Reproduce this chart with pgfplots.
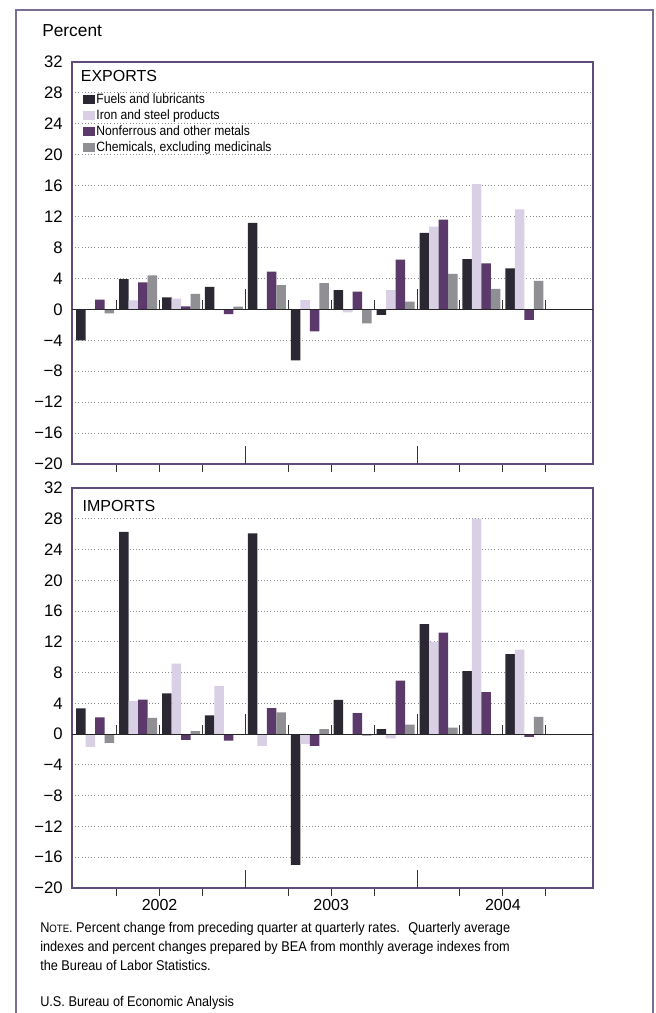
\documentclass[border=0pt]{standalone}
\usepackage{pgfplots}
\pgfplotsset{compat=1.18}
\usepackage{pgfplotstable}
\usepackage{fontspec}
\setmainfont{Liberation Sans}
\newfontfamily\narrow[FakeStretch=0.9]{Liberation Sans}
\definecolor{fuel}{HTML}{2B2733}
\definecolor{iron}{HTML}{D9D0E6}
\definecolor{nonf}{HTML}{5B3A6B}
\definecolor{chem}{HTML}{8F8F94}
\definecolor{framec}{HTML}{5F4B7D}
\definecolor{outerc}{HTML}{7B6E96}

\pgfplotstableread{
k fuel iron nonf chem
0 -4.0 0.0 1.25 -0.5
1 3.9 1.15 3.5 4.4
2 1.55 1.4 0.4 2.0
3 2.9 -0.1 -0.6 0.35
4 11.2 -0.1 4.9 3.15
5 -6.6 1.2 -2.85 3.4
6 2.5 -0.4 2.3 -1.8
7 -0.7 2.5 6.45 1.0
8 9.9 10.7 11.6 4.6
9 6.5 16.2 5.95 2.65
10 5.3 12.95 -1.35 3.7
}\exportsdata

\pgfplotstableread{
k fuel iron nonf chem
0 3.35 -1.65 2.17 -1.13
1 26.3 4.3 4.48 2.13
2 5.3 9.17 -0.74 0.4
3 2.43 6.26 -0.83 0.0
4 26.1 -1.52 3.4 2.83
5 -17.0 -1.26 -1.52 0.65
6 4.45 -0.05 2.75 -0.2
7 0.65 -0.55 6.95 1.25
8 14.3 12.0 13.2 0.85
9 8.2 28.0 5.45 -0.1
10 10.4 11.0 -0.35 2.25
}\importsdata

\def\u{0.75pt}
\tikzset{zeroline/.style={black!85, line width=0.8pt}}

\pgfplotsset{
  panel/.style={
    scale only axis,
    clip=false,
    width=390.75pt,
    xmin=-0.54, xmax=11.6,
    ymin=-20, ymax=32,
    ytick={-20,-16,...,32},
    yticklabels={−20,−16,−12,−8,−4,0,4,8,12,16,20,24,28,32},
    yticklabel style={font=\fontsize{12.5}{14}\selectfont, inner sep=0pt, xshift=-6.75pt},
    ytick style={draw=none},
    ymajorgrids,
    grid style={dotted, black!45, line width=0.7pt},
    xtick={0.5,1.5,2.5,4.5,5.5,6.5,8.5,9.5,10.5},
    xticklabels={},
    extra x ticks={3.5,7.5},
    extra x tick labels={},
    extra x tick style={major tick length=13.5pt, tick align=inside, xticklabels={}},
    major tick length=6pt,
    tick align=inside,
    xtick pos=left,
    x tick style={line width=0.8pt, black!80},
    axis line style={framec, line width=2pt},
    ybar=0pt, bar width=0.2214,
    legend image code/.code={\fill[##1] (0pt,-3.4pt) rectangle (8.7pt,3.4pt);},
  },
}

\begin{document}
\begin{tikzpicture}
\useasboundingbox (0,0) rectangle (656*\u,-1013*\u);
\fill[white] (0,0) rectangle (656*\u,-1013*\u);
% outer frame
\draw[outerc, line width=1.5pt] (16*\u,-1020*\u) -- (16*\u,-10*\u) -- (653*\u,-10*\u) -- (653*\u,-1020*\u);
\node[anchor=west, inner sep=0pt, font=\fontsize{13}{15}\selectfont] at (42*\u,-31*\u) {Percent};

\begin{axis}[panel, height=301.5pt, at={(72*\u,-62*\u)}, anchor=north west,
  legend style={at={(0.0205,0.922)}, anchor=north west, draw=none, fill=none,
    font=\narrow\fontsize{10.1}{11}\selectfont, inner sep=0pt, row sep=2.7pt,
    nodes={inner ysep=0pt, inner xsep=1.4pt, text height=7.3pt, text depth=2pt},
    cells={anchor=west}},
  legend cell align=left]
\addplot[fill=fuel, draw=none] table[x=k, y=fuel] {\exportsdata};
\addplot[fill=iron, draw=none] table[x=k, y=iron] {\exportsdata};
\addplot[fill=nonf, draw=none] table[x=k, y=nonf] {\exportsdata};
\addplot[fill=chem, draw=none] table[x=k, y=chem] {\exportsdata};
\legend{Fuels and lubricants, Iron and steel products, Nonferrous and other metals, {Chemicals, excluding medicinals}}
\draw[zeroline] (axis cs:-0.54,0) -- (axis cs:11.6,0);
\pgfplotsinvokeforeach{0.5,1.5,2.5,4.5,5.5,6.5,8.5,9.5,10.5}{\draw[black!80, line width=0.8pt] (axis cs:#1,0) -- ++(0pt,6.75pt);}
\pgfplotsinvokeforeach{3.5,7.5}{\draw[black!80, line width=0.8pt] (axis cs:#1,0) -- ++(0pt,15pt);}
\node[anchor=west, inner sep=0pt, font=\fontsize{12}{14}\selectfont] at (axis description cs:0.0165,0.965) {EXPORTS};
\end{axis}

\begin{axis}[panel, height=300pt, at={(72*\u,-488*\u)}, anchor=north west]
\addplot[fill=fuel, draw=none] table[x=k, y=fuel] {\importsdata};
\addplot[fill=iron, draw=none] table[x=k, y=iron] {\importsdata};
\addplot[fill=nonf, draw=none] table[x=k, y=nonf] {\importsdata};
\addplot[fill=chem, draw=none] table[x=k, y=chem] {\importsdata};
\draw[zeroline] (axis cs:-0.54,0) -- (axis cs:11.6,0);
\pgfplotsinvokeforeach{0.5,1.5,2.5,4.5,5.5,6.5,8.5,9.5,10.5}{\draw[black!80, line width=0.8pt] (axis cs:#1,0) -- ++(0pt,6.75pt);}
\pgfplotsinvokeforeach{3.5,7.5}{\draw[black!80, line width=0.8pt] (axis cs:#1,0) -- ++(0pt,15pt);}
\node[anchor=west, inner sep=0pt, font=\fontsize{12}{14}\selectfont] at (axis description cs:0.02,0.956) {IMPORTS};
\node[font=\fontsize{12}{14}\selectfont, inner sep=0pt] at ([yshift=-12.75pt]axis cs:1.5,-20) {2002};
\node[font=\fontsize{12}{14}\selectfont, inner sep=0pt] at ([yshift=-12.75pt]axis cs:5.5,-20) {2003};
\node[font=\fontsize{12}{14}\selectfont, inner sep=0pt] at ([yshift=-12.75pt]axis cs:9.5,-20) {2004};
\end{axis}

\begin{scope}[every node/.style={anchor=base west, inner sep=0pt, font=\narrow\fontsize{10.6}{12}\selectfont}]
\node at (40*\u,-932*\u) {N{\fontsize{8}{10}\selectfont OTE}. Percent change from preceding quarter at quarterly rates.~ Quarterly average};
\node at (40*\u,-951*\u) {indexes and percent changes prepared by BEA from monthly average indexes from};
\node at (40*\u,-970*\u) {the Bureau of Labor Statistics.};
\node at (40*\u,-1006*\u) {U.S. Bureau of Economic Analysis};
\end{scope}
\end{tikzpicture}
\end{document}
